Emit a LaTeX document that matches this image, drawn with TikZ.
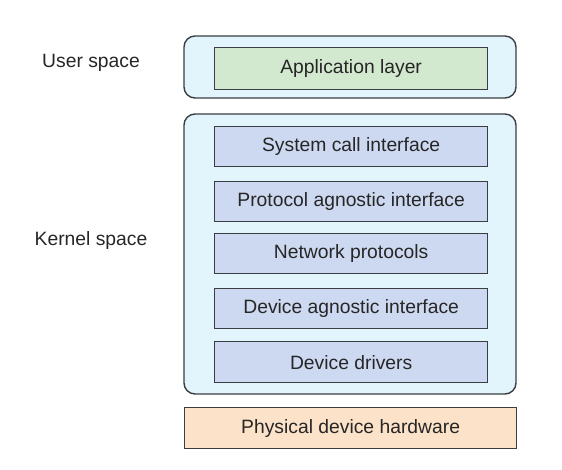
\documentclass[tikz,border=0pt]{standalone}
\usepackage{fontspec}
\setmainfont{Liberation Sans}
\definecolor{outerfill}{HTML}{E2F4FC}
\definecolor{appfill}{HTML}{D3E9CF}
\definecolor{kernfill}{HTML}{CDD9F1}
\definecolor{hwfill}{HTML}{FCE2C8}
\definecolor{edge}{HTML}{3A3E42}
\definecolor{txt}{HTML}{262626}
\begin{document}
\begin{tikzpicture}[x=1pt,y=-1pt,
  outerbox/.style={draw=edge,line width=1.4pt,fill=outerfill,rounded corners=11pt},
  layerbox/.style={draw=edge,line width=1.3pt,fill=kernfill,minimum width=273pt,minimum height=40pt,inner sep=0pt,anchor=north west,text=txt,font=\fontsize{19.3}{22}\selectfont},
  sidelabel/.style={text=txt,font=\fontsize{19.3}{22}\selectfont}]
\useasboundingbox (0,0) rectangle (562,470);
\draw[outerbox] (184,36) rectangle (516,98);
\draw[outerbox] (184,114) rectangle (516,394);
\node[layerbox,fill=appfill,minimum height=42pt] (app) at (214,47) {Application layer};
\node[layerbox] (sci) at (214,126) {System call interface};
\node[layerbox] (pai) at (214,181) {Protocol agnostic interface};
\node[layerbox] (np) at (214,233) {Network protocols};
\node[layerbox] (dai) at (214,288) {Device agnostic interface};
\node[layerbox,minimum height=41pt] (dd) at (214,341) {Device drivers};
\node[layerbox,fill=hwfill,minimum width=332pt,minimum height=41pt] (hw) at (184,407) {Physical device hardware};
\node[sidelabel] (us) at (91,63) {User space};
\node[sidelabel] (ks) at (91,241) {Kernel space};
\end{tikzpicture}
\end{document}
